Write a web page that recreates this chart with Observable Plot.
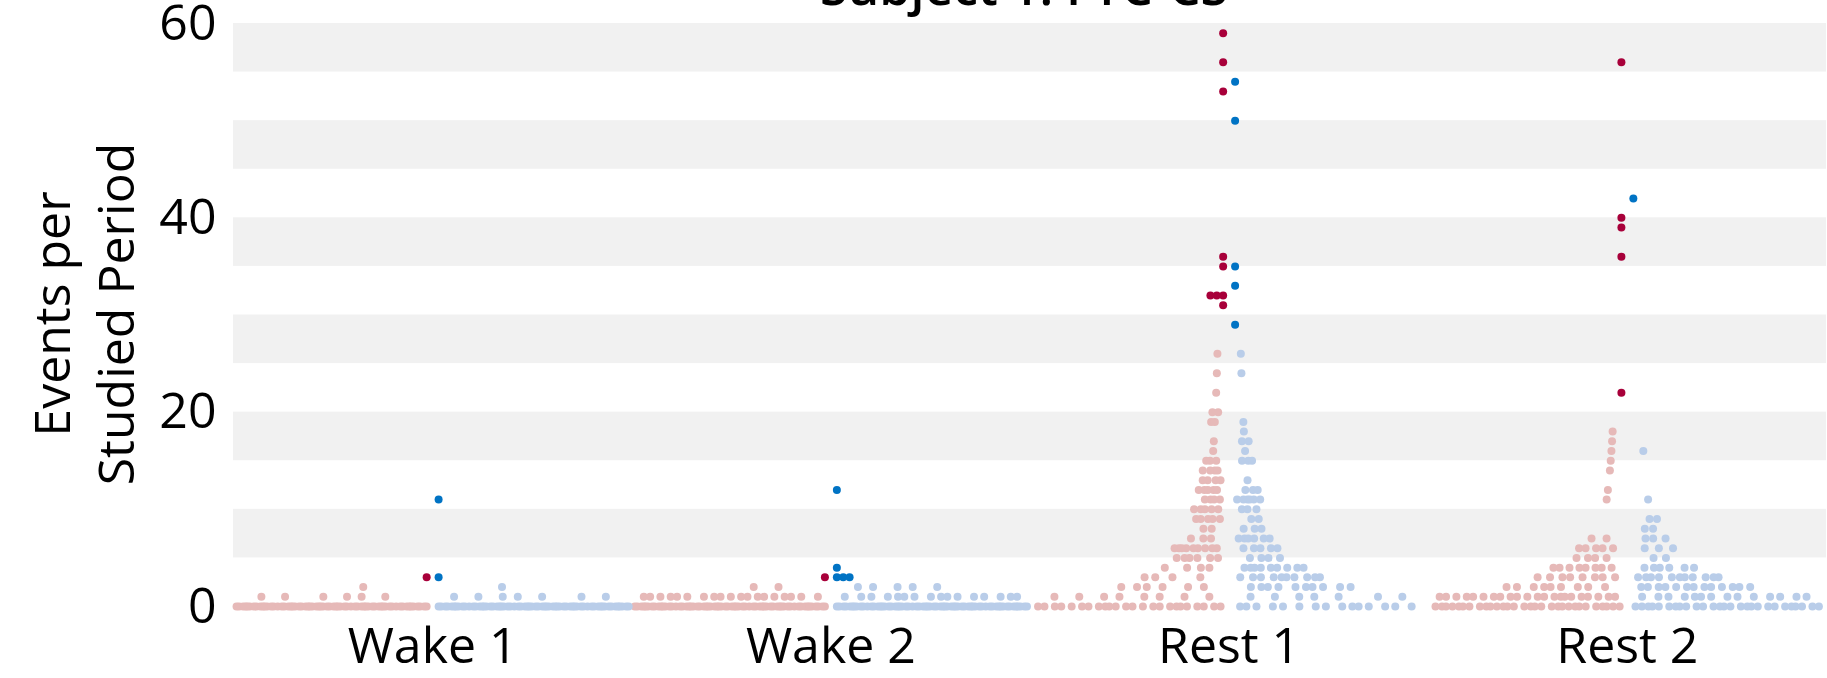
<!DOCTYPE html>
<html><head><meta charset="utf-8">
<script src="https://cdn.jsdelivr.net/npm/d3@7"></script>
<script src="https://cdn.jsdelivr.net/npm/@observablehq/plot@0.6"></script>
<style>
html,body{margin:0;padding:0;background:#fff;overflow:hidden;}
#wrap{position:relative;width:1827px;height:678px;overflow:hidden;font-family:"Open Sans",sans-serif;}
#chart{position:absolute;left:0;top:0;}
#title{position:absolute;left:233px;width:1582px;top:-39px;text-align:center;font-size:50px;font-weight:600;line-height:50px;color:#000;}
</style></head><body>
<div id="wrap"><div id="chart"></div><div id="title">Subject 1: FTC-CS</div></div>
<script>
// ---- data ----
const categories = ["Wake 1", "Wake 2", "Rest 1", "Rest 2"];
const yTicks = [0, 20, 40, 60];
const stripeStarts = [5, 15, 25, 35, 45, 55];

// number of periods with 0,1,2,... events (light points); red = left half, blue = right half
const wake1Red  = [65, 6, 1];
const wake1Blue = [65, 7, 1];
const wake2Red  = [65, 19, 2];
const wake2Blue = [65, 16, 5];
const rest1Red  = [24, 8, 6, 4, 4, 6, 9, 3, 2, 5, 5, 4, 5, 4, 4, 3, 1, 1, 0, 2, 2, 0, 1, 0, 1, 0, 1];
const rest1Blue = [15, 7, 10, 10, 9, 4, 5, 6, 3, 2, 3, 6, 3, 1, 0, 3, 1, 2, 1, 1, 0, 0, 0, 0, 1, 0, 1];
const rest2Red  = [30, 22, 9, 8, 8, 4, 5, 2, 0, 0, 0, 1, 1, 0, 1, 1, 1, 1, 1];
const rest2Blue = [27, 14, 13, 11, 6, 2, 3, 3, 2, 2, 0, 1, 0, 0, 0, 0, 1];

// highlighted (significant) periods: event counts
const wake1RedSig  = [3];
const wake1BlueSig = [3, 11];
const wake2RedSig  = [3];
const wake2BlueSig = [3, 3, 3, 4, 12];
const rest1RedSig  = [31, 32, 32, 32, 35, 36, 53, 56, 59];
const rest1BlueSig = [29, 33, 35, 50, 54];
const rest2RedSig  = [22, 36, 39, 40, 56];
const rest2BlueSig = [42];

// ---- sina-like layout (x in category units), deterministic low-discrepancy placement ----
const HALF = 0.5, GAP = 0.0113, PHI = 0.6180339887;
const spread = v => Math.min(1, 2 / (1 + v));
function layout(cat, counts, sign) {
  const out = [];
  counts.forEach((n, v) => {
    for (let k = 0; k < n; k++) {
      const p = n === 1 ? 0.5 : (0.5 / n + (0.31 * v + k * PHI) % 1 * (1 - 1 / n));
      out.push({x: cat + sign * (GAP + (HALF - GAP) * spread(v) * p), y: v});
    }
  });
  return out;
}
function layoutSig(cat, values, sign) {
  const seen = {}, out = [];
  values.forEach(v => {
    const k = seen[v] || 0; seen[v] = k + 1;
    out.push({x: cat + sign * (0.015 + 0.016 * k), y: v});
  });
  return out;
}
const redLight = [].concat(layout(0, wake1Red, -1), layout(1, wake2Red, -1), layout(2, rest1Red, -1), layout(3, rest2Red, -1));
const blueLight = [].concat(layout(0, wake1Blue, 1), layout(1, wake2Blue, 1), layout(2, rest1Blue, 1), layout(3, rest2Blue, 1));
const redDark = [].concat(layoutSig(0, wake1RedSig, -1), layoutSig(1, wake2RedSig, -1), layoutSig(2, rest1RedSig, -1), layoutSig(3, rest2RedSig, -1));
const blueDark = [].concat(layoutSig(0, wake1BlueSig, 1), layoutSig(1, wake2BlueSig, 1), layoutSig(2, rest1BlueSig, 1), layoutSig(3, rest2BlueSig, 1));

const chart = Plot.plot({
  width: 1827, height: 678,
  marginLeft: 233, marginRight: 1, marginTop: 23, marginBottom: 72,
  style: {fontFamily: "'Open Sans', sans-serif", fontSize: "50px", color: "#000", background: "transparent"},
  x: {domain: [-0.5, 3.5], ticks: [0, 1, 2, 3], tickFormat: i => categories[i], tickSize: 0, tickPadding: 21, label: null},
  y: {domain: [0, 60], ticks: yTicks, tickSize: 0, tickPadding: 17, label: null},
  marks: [
    Plot.rect(stripeStarts, {x1: -0.5, x2: 3.5, y1: d => d, y2: d => d + 5, fill: "#f1f1f1"}),
    Plot.dot(redLight, {x: "x", y: "y", r: 4, fill: "#e6b9b8", stroke: null}),
    Plot.dot(blueLight, {x: "x", y: "y", r: 4, fill: "#b9cde9", stroke: null}),
    Plot.dot(redDark, {x: "x", y: "y", r: 4, fill: "#a8003a", stroke: null}),
    Plot.dot(blueDark, {x: "x", y: "y", r: 4, fill: "#0073c4", stroke: null})
  ]
});
const svg = d3.select(chart);
[["Events per", 70], ["Studied Period", 134]].forEach(([t, x]) => {
  svg.append("text")
    .attr("transform", `translate(${x},314) rotate(-90)`)
    .attr("text-anchor", "middle")
    .attr("font-family", "'Open Sans', sans-serif")
    .attr("font-size", 50)
    .attr("fill", "#000")
    .text(t);
});
document.getElementById("chart").appendChild(chart);
</script>
</body></html>
